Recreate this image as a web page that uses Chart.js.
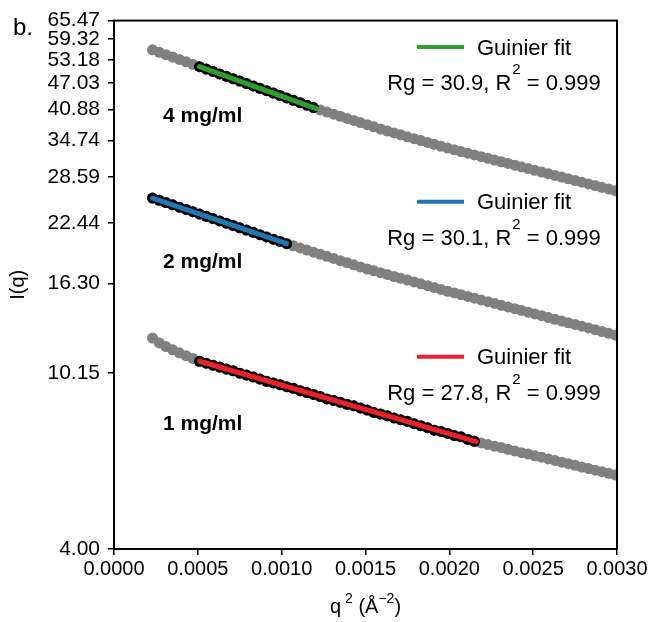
<!DOCTYPE html>
<html>
<head>
<meta charset="utf-8">
<script src="https://cdn.jsdelivr.net/npm/chart.js@4.4.0/dist/chart.umd.min.js"></script>
<style>
  html, body { margin: 0; padding: 0; background: #fff; }
</style>
</head>
<body>
<canvas id="guinierChart" width="656" height="622"></canvas>
<script>
// q^2 grid (A^-2), shared by the three concentrations
const q2 = [0.00023,0.00027,0.00031,0.00035,0.00039,0.00043,0.00047,0.00051,0.00055,0.00059,
  0.00063,0.00067,0.00071,0.00075,0.00079,0.00083,0.00087,0.00091,0.00095,0.00099,
  0.00103,0.00107,0.00111,0.00115,0.00119,0.00123,0.00127,0.00131,0.00135,0.00139,
  0.00143,0.00147,0.00151,0.00155,0.00159,0.00163,0.00167,0.00171,0.00175,0.00179,
  0.00183,0.00187,0.00191,0.00195,0.00199,0.00203,0.00207,0.00211,0.00215,0.00219,
  0.00223,0.00227,0.00231,0.00235,0.00239,0.00243,0.00247,0.00251,0.00255,0.00259,
  0.00263,0.00267,0.00271,0.00275,0.00279,0.00283,0.00287,0.00291,0.00295,0.00299];

// I(q)
const int4 = [56.09,55.38,54.68,53.99,53.31,52.64,51.97,51.31,50.66,50.02,
  49.39,48.77,48.15,47.54,46.94,46.35,45.76,45.18,44.61,44.05,
  43.49,42.94,42.40,41.86,41.33,40.81,40.36,39.91,39.47,39.03,
  38.60,38.17,37.74,37.32,36.90,36.49,36.13,35.77,35.41,35.06,
  34.71,34.36,34.02,33.68,33.35,33.05,32.75,32.46,32.17,31.88,
  31.59,31.31,31.03,30.75,30.47,30.20,29.93,29.66,29.39,29.13,
  28.87,28.61,28.35,28.10,27.85,27.60,27.35,27.11,26.87,26.63];
const int2 = [25.61,25.30,25.00,24.70,24.40,24.11,23.82,23.53,23.25,22.97,
  22.69,22.42,22.15,21.88,21.62,21.36,21.10,20.85,20.60,20.35,
  20.11,19.89,19.67,19.45,19.23,19.02,18.81,18.60,18.39,18.19,
  17.99,17.79,17.59,17.42,17.25,17.08,16.91,16.75,16.59,16.43,
  16.27,16.11,15.95,15.79,15.64,15.50,15.36,15.22,15.08,14.94,
  14.80,14.66,14.52,14.39,14.26,14.13,14.00,13.87,13.74,13.61,
  13.48,13.36,13.24,13.12,13.00,12.88,12.76,12.64,12.52,12.40];
const int1 = [12.21,11.90,11.67,11.47,11.29,11.12,10.96,10.80,10.69,10.58,
  10.47,10.36,10.27,10.14,10.04,9.94,9.83,9.71,9.63,9.54,
  9.44,9.36,9.24,9.15,9.06,8.96,8.85,8.78,8.69,8.60,
  8.53,8.43,8.34,8.23,8.17,8.09,8.00,7.92,7.86,7.76,
  7.68,7.60,7.50,7.45,7.37,7.29,7.24,7.14,7.07,7.01,
  6.95,6.89,6.84,6.78,6.72,6.66,6.61,6.55,6.50,6.44,
  6.39,6.33,6.28,6.23,6.17,6.12,6.07,6.02,5.97,5.92];

// Guinier fit lines (end points of the fitted range)
const fit4X = [0.00051, 0.00121];
const fit4Y = [51.31, 41.06];
const fit2X = [0.00023, 0.00103];
const fit2Y = [25.61, 20.11];
const fit1X = [0.00051, 0.00216];
const fit1Y = [10.80, 7.06];

const concLabels = ['4 mg/ml', '2 mg/ml', '1 mg/ml'];
const rgValues = ['30.9', '30.1', '27.8'];
const r2Values = ['0.999', '0.999', '0.999'];

const xTicks = [0, 0.0005, 0.0010, 0.0015, 0.0020, 0.0025, 0.0030];
const yTicks = [4.00, 10.15, 16.30, 22.44, 28.59, 34.74, 40.88, 47.03, 53.18, 59.32, 65.47];

const FONT = "'Liberation Sans', Arial, Helvetica, sans-serif";
const fitColors = ['#2ca02c', '#1f77b4', '#e8212b'];

function inFit(x, fx) {
    return x >= fx[0] - 1e-7 && x <= fx[1] + 1e-7;
}

function grayPoints(vals) {
    return {
        data: q2.map((x, i) => ({ x: x, y: vals[i] })),
        pointRadius: 5.5,
        pointBorderWidth: 0,
        pointBackgroundColor: '#808080',
        showLine: false,
        clip: 0,
        order: 3
    };
}

function blackPoints(vals, fx) {
    const pts = [];
    q2.forEach((x, i) => { if (inFit(x, fx)) pts.push({ x: x, y: vals[i] }); });
    return {
        data: pts,
        pointRadius: 5.5,
        pointBorderWidth: 0,
        pointBackgroundColor: '#000000',
        showLine: false,
        order: 2
    };
}

function fitLine(fx, fy, color) {
    return {
        data: fx.map((x, i) => ({ x: x, y: fy[i] })),
        showLine: true,
        borderColor: color,
        borderWidth: 5,
        borderCapStyle: 'round',
        pointRadius: 0,
        order: 1
    };
}

// legend boxes, labels, frame and axis titles
const annotate = {
    id: 'annotate',
    afterDraw(chart) {
        const ctx = chart.ctx;
        const a = chart.chartArea;
        ctx.save();
        ctx.strokeStyle = '#000';
        ctx.lineWidth = 2;
        ctx.strokeRect(a.left, a.top, a.right - a.left, a.bottom - a.top);

        ctx.fillStyle = '#000';
        ctx.textBaseline = 'alphabetic';
        ctx.textAlign = 'left';
        ctx.font = '24px ' + FONT;
        ctx.fillText('b.', 13, 35);

        // y title
        ctx.save();
        ctx.translate(18, (a.top + a.bottom) / 2);
        ctx.rotate(-Math.PI / 2);
        ctx.textAlign = 'center';
        ctx.textBaseline = 'middle';
        ctx.font = '20px ' + FONT;
        ctx.fillText('I(q)', 0, 0);
        ctx.restore();

        // x title with superscripts
        const parts = [['q', false], ['\u2009', false], ['2', true], [' (\u00C5', false], ['\u2212' + '2', true], [')', false]];
        let tw = 0;
        parts.forEach(p => { ctx.font = (p[1] ? '14px ' : '20px ') + FONT; tw += ctx.measureText(p[0]).width; });
        let tx = (a.left + a.right) / 2 - tw / 2;
        const tb = 613;
        parts.forEach(p => {
            ctx.font = (p[1] ? '14px ' : '20px ') + FONT;
            ctx.fillText(p[0], tx, p[1] ? tb - 10 : tb);
            tx += ctx.measureText(p[0]).width;
        });

        // concentration labels
        const labelBase = [122, 267.5, 430];
        ctx.font = 'bold 21px ' + FONT;
        concLabels.forEach((t, i) => ctx.fillText(t, 163, labelBase[i]));

        // Guinier legends
        const rows = [47, 201.7, 356.7];
        const cx = 494;
        rows.forEach((ry, i) => {
            ctx.strokeStyle = fitColors[i];
            ctx.lineWidth = 4;
            ctx.beginPath();
            ctx.moveTo(417, ry);
            ctx.lineTo(464, ry);
            ctx.stroke();
            ctx.font = '22px ' + FONT;
            ctx.fillText('Guinier fit', 477, ry + 7.5);

            const p1 = 'Rg = ' + rgValues[i] + ', R';
            const p3 = ' = ' + r2Values[i];
            ctx.font = '22px ' + FONT;
            const w1 = ctx.measureText(p1).width;
            const w3 = ctx.measureText(p3).width;
            ctx.font = '15px ' + FONT;
            const w2 = ctx.measureText('2').width + 1;
            let x0 = cx - (w1 + w2 + w3) / 2;
            const base = ry + 43;
            ctx.font = '22px ' + FONT;
            ctx.fillText(p1, x0, base);
            ctx.font = '15px ' + FONT;
            ctx.fillText('2', x0 + w1 + 1, base - 16);
            ctx.font = '22px ' + FONT;
            ctx.fillText(p3, x0 + w1 + w2, base);
        });
        ctx.restore();
    }
};

const ctx = document.getElementById('guinierChart').getContext('2d');
new Chart(ctx, {
    type: 'scatter',
    data: {
        datasets: [
            fitLine(fit4X, fit4Y, fitColors[0]),
            fitLine(fit2X, fit2Y, fitColors[1]),
            fitLine(fit1X, fit1Y, fitColors[2]),
            blackPoints(int4, fit4X),
            blackPoints(int2, fit2X),
            blackPoints(int1, fit1X),
            grayPoints(int4),
            grayPoints(int2),
            grayPoints(int1)
        ]
    },
    options: {
        responsive: false,
        animation: false,
        events: [],
        layout: { padding: { left: 0, right: 39, top: 17, bottom: 0 } },
        plugins: {
            legend: { display: false },
            tooltip: { enabled: false }
        },
        scales: {
            x: {
                type: 'linear',
                min: 0,
                max: 0.003,
                afterBuildTicks: s => { s.ticks = xTicks.map(v => ({ value: v })); },
                afterFit: s => { s.height = 73; },
                grid: { display: true, drawOnChartArea: false, drawTicks: true, tickLength: 6, color: '#000', lineWidth: 1.5 },
                border: { display: true, color: '#000', width: 2 },
                ticks: {
                    color: '#000',
                    font: { family: FONT, size: 20 },
                    padding: 2,
                    maxRotation: 0,
                    autoSkip: false,
                    callback: v => Number(v).toFixed(4)
                }
            },
            y: {
                type: 'logarithmic',
                min: 4,
                max: 65.47,
                afterBuildTicks: s => { s.ticks = yTicks.map(v => ({ value: v })); },
                afterFit: s => { s.width = 114; },
                grid: { display: true, drawOnChartArea: false, drawTicks: true, tickLength: 6, color: '#000', lineWidth: 1.5 },
                border: { display: true, color: '#000', width: 2 },
                ticks: {
                    color: '#000',
                    font: { family: FONT, size: 21 },
                    padding: 8,
                    autoSkip: false,
                    callback: v => Number(v).toFixed(2)
                }
            }
        }
    },
    plugins: [annotate]
});
</script>
</body>
</html>
